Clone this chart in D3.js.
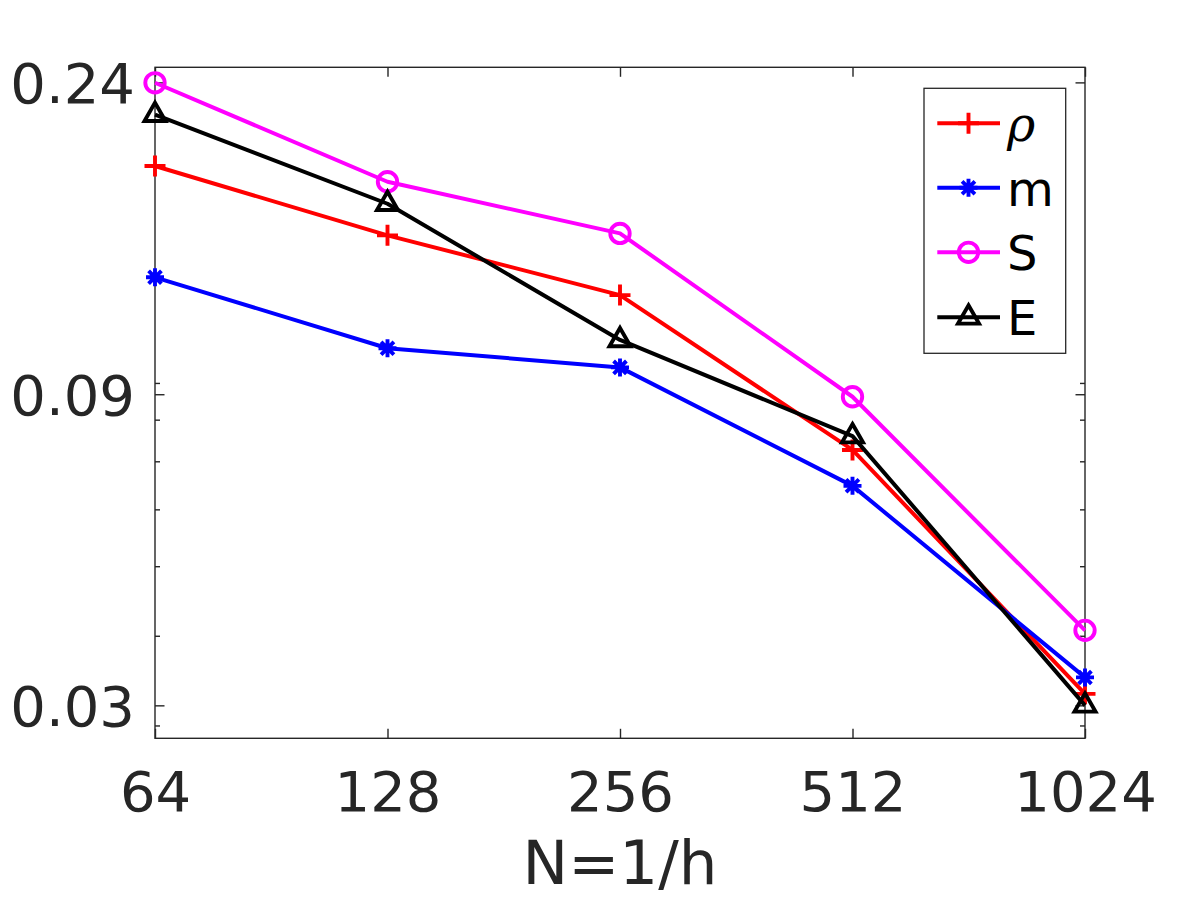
<!DOCTYPE html>
<html>
<head>
<meta charset="utf-8">
<script src="https://cdn.jsdelivr.net/npm/d3@7"></script>
<style>
  html, body { margin: 0; padding: 0; background: #fff; }
  svg { display: block; }
  text { font-family: "DejaVu Sans", sans-serif; }
</style>
</head>
<body>
<div id="chart"></div>
<script>
// ---- data ----
const N = [64, 128, 256, 512, 1024];
const rho = [0.1805, 0.1445, 0.1193, 0.0726, 0.0332];
const mVals = [0.1263, 0.1006, 0.0946, 0.0647, 0.0350];
const SVals = [0.2357, 0.1716, 0.1454, 0.0861, 0.0407];
const EVals = [0.2128, 0.1599, 0.1033, 0.0759, 0.0320];
const seriesNames = ["ρ", "m", "S", "E"];
const xTickLabels = ["64", "128", "256", "512", "1024"];
const yTickValues = [0.0320, 0.0868, 0.2360];
const yTickLabels = ["0.03", "0.09", "0.24"];
const yMinorTicks = [0.03, 0.04, 0.05, 0.06, 0.07, 0.08, 0.09];
const yDomain = [0.02879, 0.2477];
const xLabel = "N=1/h";

(function () {
const W = 1200, H = 900;
const pLeft = 155, pRight = 1085, pTop = 67.3, pBottom = 738.3;
const axisColor = "#262626";

const svg = d3.select("#chart").append("svg")
  .attr("width", W).attr("height", H);

const x = d3.scaleLog().base(2).domain([N[0], N[N.length - 1]]).range([pLeft, pRight]);
const y = d3.scaleLog().domain(yDomain).range([pBottom, pTop]);

// frame
svg.append("rect")
  .attr("x", pLeft).attr("y", pTop)
  .attr("width", pRight - pLeft).attr("height", pBottom - pTop)
  .attr("fill", "#fff").attr("stroke", axisColor).attr("stroke-width", 1.4);

function styleAxis(g) {
  g.select(".domain").remove();
  g.selectAll(".tick line").attr("stroke", axisColor).attr("stroke-width", 1.4);
  g.selectAll(".tick text").attr("fill", axisColor)
    .style("font-family", '"DejaVu Sans", sans-serif').style("font-size", "56px");
}

// x axes
svg.append("g").attr("transform", `translate(0,${pBottom})`)
  .call(d3.axisBottom(x).tickValues(N).tickFormat((d, i) => xTickLabels[i])
    .tickSizeInner(-9.5).tickSizeOuter(0).tickPadding(33))
  .call(styleAxis);
svg.append("g").attr("transform", `translate(0,${pTop})`)
  .call(d3.axisTop(x).tickValues(N).tickFormat("").tickSizeInner(-9.5).tickSizeOuter(0))
  .call(styleAxis);

// y axes (major)
svg.append("g").attr("transform", `translate(${pLeft},0)`)
  .call(d3.axisLeft(y).tickValues(yTickValues).tickFormat((d, i) => yTickLabels[i])
    .tickSizeInner(-9.5).tickSizeOuter(0).tickPadding(20))
  .call(styleAxis)
  .call(g => g.selectAll(".tick text").attr("dy", "0.36em"));
svg.append("g").attr("transform", `translate(${pRight},0)`)
  .call(d3.axisRight(y).tickValues(yTickValues).tickFormat("").tickSizeInner(-9.5).tickSizeOuter(0))
  .call(styleAxis);
// y axes (minor)
svg.append("g").attr("transform", `translate(${pLeft},0)`)
  .call(d3.axisLeft(y).tickValues(yMinorTicks).tickFormat("").tickSizeInner(-5).tickSizeOuter(0))
  .call(styleAxis);
svg.append("g").attr("transform", `translate(${pRight},0)`)
  .call(d3.axisRight(y).tickValues(yMinorTicks).tickFormat("").tickSizeInner(-5).tickSizeOuter(0))
  .call(styleAxis);

// x label
svg.append("text")
  .attr("x", (pLeft + pRight) / 2).attr("y", 884)
  .attr("text-anchor", "middle")
  .attr("fill", axisColor)
  .style("font-size", "61px")
  .text(xLabel);

// markers
function drawMarker(g, type, cx, cy, color) {
  const sw = 3.9;
  if (type === "plus") {
    g.append("path").attr("d", `M${cx - 10.5},${cy}H${cx + 10.5}M${cx},${cy - 10.5}V${cy + 10.5}`)
      .attr("stroke", color).attr("stroke-width", sw).attr("fill", "none");
  } else if (type === "star") {
    const a = 9, b = 6.4;
    g.append("path").attr("d",
      `M${cx - a},${cy}H${cx + a}M${cx},${cy - a}V${cy + a}` +
      `M${cx - b},${cy - b}L${cx + b},${cy + b}M${cx - b},${cy + b}L${cx + b},${cy - b}`)
      .attr("stroke", color).attr("stroke-width", sw).attr("fill", "none");
  } else if (type === "circle") {
    g.append("circle").attr("cx", cx).attr("cy", cy).attr("r", 9.7)
      .attr("stroke", color).attr("stroke-width", sw).attr("fill", "none");
  } else if (type === "triangle") {
    g.append("path").attr("d", `M${cx},${cy - 12}L${cx + 10.5},${cy + 6.3}L${cx - 10.5},${cy + 6.3}Z`)
      .attr("stroke", color).attr("stroke-width", sw).attr("fill", "none")
      .attr("stroke-linejoin", "miter");
  }
}

const series = [
  { name: seriesNames[0], values: rho, color: "#ff0000", marker: "plus" },
  { name: seriesNames[1], values: mVals, color: "#0000ff", marker: "star" },
  { name: seriesNames[2], values: SVals, color: "#ff00ff", marker: "circle" },
  { name: seriesNames[3], values: EVals, color: "#000000", marker: "triangle" }
];

const line = d3.line().x((d, i) => x(N[i])).y(d => y(d));

series.forEach(s => {
  const g = svg.append("g");
  g.append("path").datum(s.values)
    .attr("d", line)
    .attr("fill", "none").attr("stroke", s.color).attr("stroke-width", 4)
    .attr("stroke-linejoin", "round");
  s.values.forEach((v, i) => drawMarker(g, s.marker, x(N[i]), y(v), s.color));
});

// legend
const lg = svg.append("g");
lg.append("rect").attr("x", 924).attr("y", 88.3).attr("width", 141.7).attr("height", 265)
  .attr("fill", "#fff").attr("stroke", axisColor).attr("stroke-width", 1.3);
const rowY = [123.3, 187.8, 252.3, 317.3];
series.forEach((s, i) => {
  const yy = rowY[i];
  lg.append("line").attr("x1", 937.3).attr("x2", 1000).attr("y1", yy).attr("y2", yy)
    .attr("stroke", s.color).attr("stroke-width", 4);
  drawMarker(lg, s.marker, 968.5, yy, s.color);
  const t = lg.append("text").attr("x", 1007).attr("y", yy + 17.8)
    .attr("fill", "#000").style("font-size", "48px").text(s.name);
  if (i === 0) t.style("font-style", "italic").style("font-family", '"DejaVu Serif", serif');
});
})();
</script>
</body>
</html>
